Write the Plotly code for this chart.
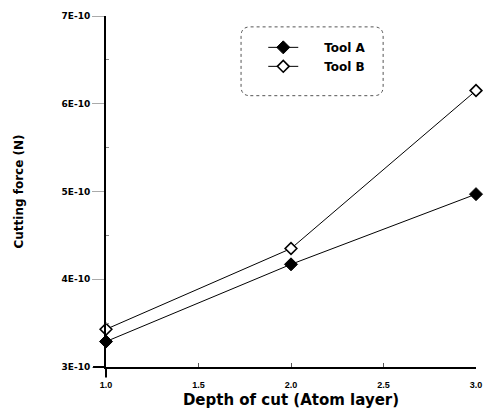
import plotly.graph_objects as go

depth = [1.0, 2.0, 3.0]
tool_a = [3.29e-10, 4.17e-10, 4.97e-10]
tool_b = [3.43e-10, 4.35e-10, 6.15e-10]
y_tickvals = [3e-10, 4e-10, 5e-10, 6e-10, 7e-10]
y_ticktext = ["3E-10", "4E-10", "5E-10", "6E-10", "7E-10"]
x_tickvals = [1.0, 1.5, 2.0, 2.5, 3.0]
x_ticktext = ["1.0", "1.5", "2.0", "2.5", "3.0"]
series_names = ["Tool A", "Tool B"]

NB = "\u00a0" * 5
BOLD = "DejaVu Sans, sans-serif"

fig = go.Figure()
fig.add_trace(go.Scatter(
    x=depth, y=tool_a, name=NB + series_names[0], mode="lines+markers",
    line=dict(color="black", width=1),
    marker=dict(symbol="diamond", size=10, color="black", line=dict(color="black", width=1)),
    cliponaxis=False))
fig.add_trace(go.Scatter(
    x=depth, y=tool_b, name=NB + series_names[1], mode="lines+markers",
    line=dict(color="black", width=1),
    marker=dict(symbol="diamond", size=9, color="white", line=dict(color="black", width=1.6)),
    cliponaxis=False))

fig.update_layout(
    width=493, height=417,
    margin=dict(l=106, r=12, t=11, b=49),
    paper_bgcolor="white", plot_bgcolor="white",
    font=dict(family="Liberation Sans, Arial, sans-serif", color="black"),
    showlegend=True,
    legend=dict(
        x=0.425, y=0.952, xanchor="left", yanchor="top",
        borderwidth=0, bgcolor="rgba(255,255,255,0)",
        font=dict(size=12, weight="bold", family=BOLD),
        itemwidth=30,
    ),
    xaxis=dict(
        range=[1, 3], tickvals=x_tickvals, ticktext=x_ticktext,
        showgrid=False, zeroline=False,
        showline=True, linecolor="black", linewidth=2,
        ticks="inside", ticklen=4, tickcolor="#555", tickwidth=1,
        tickfont=dict(size=9, weight="bold"),
        ticklabelstandoff=8,
        title=dict(text="<b>Depth of cut (Atom layer)</b>", font=dict(size=15, family=BOLD), standoff=6),
    ),
    yaxis=dict(
        range=[3e-10, 7e-10], tickvals=y_tickvals, ticktext=y_ticktext,
        showgrid=False, zeroline=False,
        showline=True, linecolor="black", linewidth=2,
        ticks="outside", ticklen=12, tickcolor="#aaa", tickwidth=1,
        tickfont=dict(size=9, weight="bold", family=BOLD),
        minor=dict(tickvals=[3.5e-10, 4.5e-10, 5.5e-10, 6.5e-10], ticks="inside", ticklen=3, tickcolor="#888"),
        title=dict(text="<b>Cutting force (N)</b>", font=dict(size=12, family=BOLD), standoff=35),
    ),
)
# legend frame (rounded, dotted)
x0, x1, y0, y1, r = 0.365, 0.749, 0.773, 0.969, 0.025
ry = r * 375 / 357
path = (f"M {x0+r},{y0} L {x1-r},{y0} Q {x1},{y0} {x1},{y0+ry} L {x1},{y1-ry} "
        f"Q {x1},{y1} {x1-r},{y1} L {x0+r},{y1} Q {x0},{y1} {x0},{y1-ry} "
        f"L {x0},{y0+ry} Q {x0},{y0} {x0+r},{y0} Z")
fig.add_shape(type="path", xref="paper", yref="paper", path=path,
              line=dict(color="#555", width=1, dash="dot"))
# small axis-crossing extensions
fig.add_shape(type="line", xref="paper", yref="paper", x0=-0.035, x1=0, y0=0, y1=0,
              line=dict(color="black", width=2))
fig.add_shape(type="line", xref="paper", yref="paper", x0=0, x1=0, y0=-0.03, y1=0,
              line=dict(color="black", width=2))

fig.write_html("out.html")
